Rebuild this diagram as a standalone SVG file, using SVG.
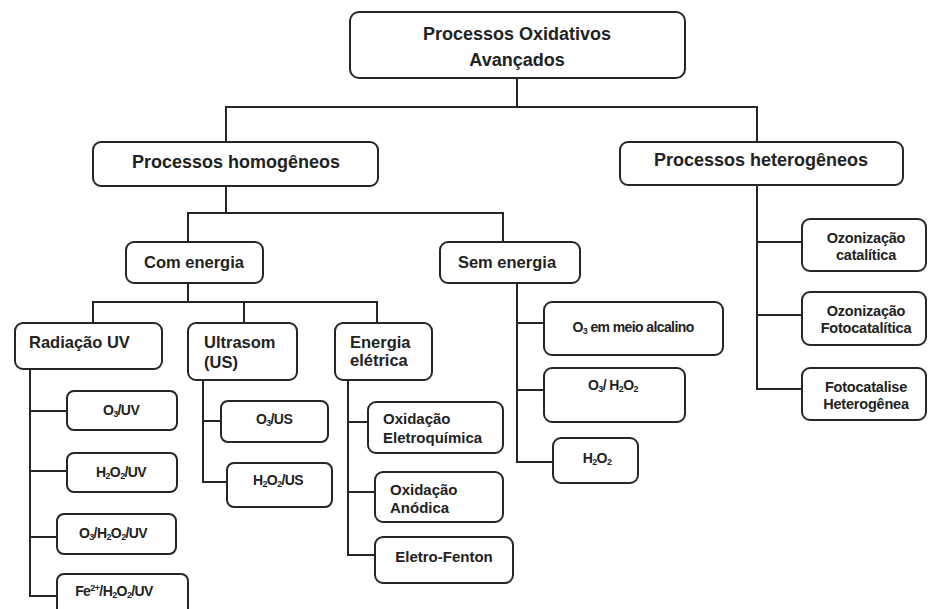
<svg xmlns="http://www.w3.org/2000/svg" width="932" height="609" viewBox="0 0 932 609">
<style>
.b{fill:#fff;stroke:#262626;stroke-width:2}
.c{fill:none;stroke:#262626;stroke-width:2}
text{font-family:"Liberation Sans",Arial,sans-serif;font-weight:bold;fill:#222}
.t1{font-size:18px;text-anchor:middle}
.t2{font-size:16.5px}
.t3{font-size:15px}
.t4{font-size:14px;text-anchor:middle;letter-spacing:-0.6px}
.t5{font-size:14.5px;text-anchor:middle;letter-spacing:-0.2px}
.s{font-size:9px}
</style>
<rect width="932" height="609" fill="#fff"/>
<g id="connectors" class="c">
<path d="M517 78V107M226 142V107H757V142"/>
<path d="M226 186V213M188 242V213H503V242"/>
<path d="M188 283V302M93 323V302H377V323M244 302V323"/>
<path d="M30 369V596H57M30 411H67M30 471H67M30 537H57"/>
<path d="M203 380V482H227M203 421H221"/>
<path d="M348 380V555M347 555H375M348 422H368M348 492H375"/>
<path d="M517 283V462H553M517 323H544M517 390H544"/>
<path d="M757 185V389H802M757 242H802M757 315H802"/>
</g>
<g id="n-poa"><rect class="b" x="350" y="12" width="335" height="66" rx="9"/><text class="t1" x="517" y="40">Processos Oxidativos</text><text class="t1" x="517" y="66">Avançados</text></g>
<g id="n-homog"><rect class="b" x="93" y="142" width="285" height="44" rx="8"/><text class="t1" x="236" y="168">Processos homogêneos</text></g>
<g id="n-heter"><rect class="b" x="620" y="142" width="283" height="43" rx="8"/><text class="t1" x="761" y="166">Processos heterogêneos</text></g>
<g id="n-com"><rect class="b" x="126" y="242" width="137" height="41" rx="8"/><text class="t2" x="194" y="268" text-anchor="middle">Com energia</text></g>
<g id="n-sem"><rect class="b" x="440" y="242" width="140" height="41" rx="8"/><text class="t2" x="507" y="268" text-anchor="middle">Sem energia</text></g>
<g id="n-uv"><rect class="b" x="15" y="323" width="147" height="46" rx="8"/><text class="t2" x="29" y="348">Radiação UV</text></g>
<g id="n-us"><rect class="b" x="188" y="323" width="109" height="57" rx="8"/><text class="t2" x="204" y="348">Ultrasom</text><text class="t2" x="204" y="368">(US)</text></g>
<g id="n-ee"><rect class="b" x="335" y="323" width="97" height="57" rx="8"/><text class="t2" x="350" y="348">Energia</text><text class="t2" x="350" y="366">elétrica</text></g>
<g id="n-o3uv"><rect class="b" x="67" y="391" width="110" height="39" rx="7"/><text class="t4" x="121" y="415">O<tspan class="s" dy="2">3</tspan><tspan dy="-2">/UV</tspan></text></g>
<g id="n-h2o2uv"><rect class="b" x="67" y="453" width="110" height="39" rx="7"/><text class="t4" x="121" y="477">H<tspan class="s" dy="2">2</tspan><tspan dy="-2">O</tspan><tspan class="s" dy="2">2</tspan><tspan dy="-2">/UV</tspan></text></g>
<g id="n-o3h2o2uv"><rect class="b" x="57" y="514" width="119" height="40" rx="7"/><text class="t4" x="113" y="538">O<tspan class="s" dy="2">3</tspan><tspan dy="-2">/H</tspan><tspan class="s" dy="2">2</tspan><tspan dy="-2">O</tspan><tspan class="s" dy="2">2</tspan><tspan dy="-2">/UV</tspan></text></g>
<g id="n-feuv"><rect class="b" x="57" y="574" width="131" height="42" rx="7"/><text class="t4" x="114" y="596">Fe<tspan class="s" dy="-5">2+</tspan><tspan dy="5">/H</tspan><tspan class="s" dy="2">2</tspan><tspan dy="-2">O</tspan><tspan class="s" dy="2">2</tspan><tspan dy="-2">/UV</tspan></text></g>
<g id="n-o3us"><rect class="b" x="221" y="401" width="107" height="41" rx="7"/><text class="t4" x="274" y="424">O<tspan class="s" dy="2">3</tspan><tspan dy="-2">/US</tspan></text></g>
<g id="n-h2o2us"><rect class="b" x="227" y="463" width="105" height="44" rx="7"/><text class="t4" x="278" y="485">H<tspan class="s" dy="2">2</tspan><tspan dy="-2">O</tspan><tspan class="s" dy="2">2</tspan><tspan dy="-2">/US</tspan></text></g>
<g id="n-oxel"><rect class="b" x="368" y="402" width="135" height="51" rx="8"/><text class="t3" x="383" y="424">Oxidação</text><text class="t3" x="383" y="443">Eletroquímica</text></g>
<g id="n-oxan"><rect class="b" x="375" y="472" width="128" height="50" rx="8"/><text class="t3" x="390" y="495">Oxidação</text><text class="t3" x="390" y="513">Anódica</text></g>
<g id="n-ef"><rect class="b" x="375" y="537" width="138" height="46" rx="8"/><text class="t3" x="444" y="562" text-anchor="middle">Eletro-Fenton</text></g>
<g id="n-o3alc"><rect class="b" x="544" y="302" width="179" height="53" rx="8"/><text class="t4" x="633" y="332">O<tspan class="s" dy="2">3</tspan><tspan dy="-2"> em meio alcalino</tspan></text></g>
<g id="n-o3h2o2"><rect class="b" x="544" y="368" width="141" height="54" rx="8"/><text class="t4" x="613" y="390">O<tspan class="s" dy="2">3</tspan><tspan dy="-2">/ H</tspan><tspan class="s" dy="2">2</tspan><tspan dy="-2">O</tspan><tspan class="s" dy="2">2</tspan></text></g>
<g id="n-h2o2"><rect class="b" x="553" y="438" width="85" height="45" rx="8"/><text class="t4" x="597" y="463">H<tspan class="s" dy="2">2</tspan><tspan dy="-2">O</tspan><tspan class="s" dy="2">2</tspan></text></g>
<g id="n-ozcat"><rect class="b" x="802" y="219" width="124" height="52" rx="8"/><text class="t5" x="866" y="243">Ozonização</text><text class="t5" x="866" y="260">catalítica</text></g>
<g id="n-ozfoto"><rect class="b" x="802" y="292" width="124" height="53" rx="8"/><text class="t5" x="866" y="316">Ozonização</text><text class="t5" x="866" y="333">Fotocatalítica</text></g>
<g id="n-fotohet"><rect class="b" x="802" y="368" width="124" height="52" rx="8"/><text class="t5" x="866" y="392">Fotocatalise</text><text class="t5" x="866" y="409">Heterogênea</text></g>
</svg>
